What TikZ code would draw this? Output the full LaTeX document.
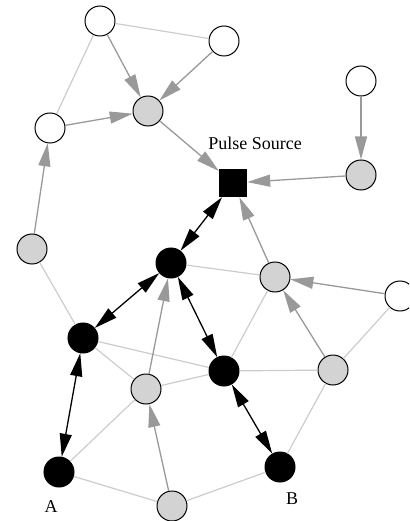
\documentclass[tikz,border=0pt]{standalone}
\usepackage{fontspec}
\setmainfont{Liberation Serif}
\usetikzlibrary{arrows.meta}
\definecolor{lgray}{HTML}{CCCCCC}
\definecolor{agray}{HTML}{999999}
\definecolor{fgray}{HTML}{D3D3D3}
\begin{document}
\begin{tikzpicture}[x=1pt,y=-1pt,
  base/.style={circle,draw=black,line width=1pt,minimum size=30pt,inner sep=0pt},
  wnode/.style={base,fill=white},
  gnode/.style={base,fill=fgray},
  bnode/.style={base,fill=black},
  src/.style={rectangle,fill=black,minimum size=28pt,inner sep=0pt},
  lbl/.style={font=\fontsize{18}{20}\selectfont,inner sep=0pt},
  lline/.style={draw=lgray,line width=1.2pt},
  garr/.style={draw=agray,line width=1.3pt,-{Triangle[length=23pt,width=12pt]}},
  barr/.style={draw=black,line width=1.3pt,{Triangle[length=23pt,width=12pt]}-{Triangle[length=23pt,width=12pt]}}
]
\useasboundingbox (0,0) rectangle (409,521);
\clip (0,0) rectangle (409,521);
\node[wnode] (n1) at (100,21) {};
\node[wnode] (n2) at (224,41) {};
\node[gnode] (n3) at (148,111) {};
\node[wnode] (n4) at (50,128) {};
\node[wnode] (n5) at (361,81) {};
\node[gnode] (n6) at (361,175) {};
\node[src] (ps) at (233,183) {};
\node[lbl] (pslbl) at (255,143) {Pulse Source};
\node[gnode] (n7) at (32,249) {};
\node[bnode] (b1) at (171,263) {};
\node[gnode] (g1) at (275,277) {};
\node[wnode] (wr) at (400,296) {};
\node[bnode] (b2) at (83,338) {};
\node[bnode] (b3) at (224,371) {};
\node[gnode] (g2) at (333,370) {};
\node[gnode] (g3) at (146,389) {};
\node[bnode] (A) at (59,472) {};
\node[bnode] (B) at (280,467) {};
\node[gnode] (g4) at (172,506) {};
\node[lbl] (Albl) at (51,507) {A};
\node[lbl] (Blbl) at (292,499) {B};
% light undirected lines
\draw[lline] (n1) -- (n2);
\draw[lline] (n1) -- (n4);
\draw[lline] (n7) -- (b2);
\draw[lline] (b1) -- (g1);
\draw[lline] (b2) -- (b3);
\draw[lline] (b2) -- (g3);
\draw[lline] (g3) -- (b3);
\draw[lline] (g3) -- (A);
\draw[lline] (A) -- (g4);
\draw[lline] (g4) -- (B);
\draw[lline] (B) -- (g2);
\draw[lline] (b3) -- (g2);
\draw[lline] (b3) -- (g1);
\draw[lline] (g2) -- (wr);
% gray arrows
\draw[garr] (n1) -- (n3);
\draw[garr] (n2) -- (n3);
\draw[garr] (n4) -- (n3);
\draw[garr] (n3) -- (ps);
\draw[garr] (n5) -- (n6);
\draw[garr] (n6) -- (ps);
\draw[garr] (g1) -- (ps);
\draw[garr] (wr) -- (g1);
\draw[garr] (g2) -- (g1);
\draw[garr] (n7) -- (n4);
\draw[garr] (g3) -- (b1);
\draw[garr] (g4) -- (g3);
% black double arrows
\draw[barr] (ps) -- (b1);
\draw[barr] (b1) -- (b2);
\draw[barr] (b1) -- (b3);
\draw[barr] (b2) -- (A);
\draw[barr] (b3) -- (B);
\end{tikzpicture}
\end{document}
